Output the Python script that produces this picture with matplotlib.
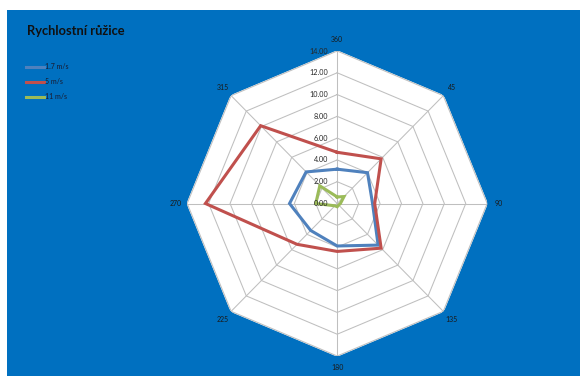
import numpy as np
import matplotlib
matplotlib.use("Agg")
import matplotlib.pyplot as plt
from matplotlib.patches import Rectangle

# ---- data ----
direction_labels = ['360', '45', '90', '135', '180', '225', '270', '315']
direction_deg = [0, 45, 90, 135, 180, 225, 270, 315]
series_names = ['1.7 m/s', '5 m/s', '11 m/s']
speed_1_7 = [3.15, 4.0, 3.3, 5.4, 3.9, 3.5, 4.45, 4.1]
speed_5 = [4.7, 5.8, 3.5, 5.8, 4.4, 5.3, 12.3, 10.1]
speed_11 = [0.6, 0.9, 0.3, 0.2, 0.3, 0.3, 2.0, 2.3]
radial_ticks = [0, 2, 4, 6, 8, 10, 12, 14]
title = 'Rychlostní růžice'

colors = ['#4F81BD', '#C0504D', '#9BBB59']
plt.rcParams['font.family'] = ['Lato', 'DejaVu Sans']

W, H = 585, 385
fig = plt.figure(figsize=(W / 100, H / 100), dpi=100, facecolor='white')
fig.patches.append(Rectangle((7 / W, 9 / H), 573 / W, 366 / H, transform=fig.transFigure,
                             facecolor='#0070C0', edgecolor='none', zorder=-5))

cx, cy, RX, RY = 337.2, 203.5, 150.0, 152.5
ax = fig.add_axes([(cx - RX) / W, (H - cy - RY) / H, 2 * RX / W, 2 * RY / H], projection='polar')
ax.set_aspect('auto')
ax.set_zorder(1)
ax.set_theta_zero_location('N')
ax.set_theta_direction(-1)
ax.set_ylim(0, radial_ticks[-1])
ax.patch.set_alpha(0)
ax.spines['polar'].set_visible(False)
ax.grid(False)
ax.set_yticks([])

theta = np.deg2rad(direction_deg)
closed = np.append(theta, theta[0])
rmax = radial_ticks[-1]
ax.fill(closed, [rmax] * len(closed), color='white', zorder=0)
for r in radial_ticks[1:]:
    ax.plot(closed, [r] * len(closed), color='#BFBFBF', lw=0.75, zorder=1)
for t in theta:
    ax.plot([t, t], [0, rmax], color='#BFBFBF', lw=0.75, zorder=1)

handles = []
for vals, name, c in zip([speed_1_7, speed_5, speed_11], series_names, colors):
    v = np.append(vals, vals[0])
    h, = ax.plot(closed, v, color=c, lw=2.2, label=name, zorder=3, solid_joinstyle='miter')
    handles.append(h)

ax.set_xticks(theta)
ax.set_xticklabels(direction_labels, fontsize=5, color='#1a1a1a')
ax.tick_params(axis='x', pad=1.5, length=0)

for r in radial_ticks:
    ax.annotate(f'{r:.2f}', xy=(0, r), xytext=(-6.5, 0), textcoords='offset points',
                ha='right', va='center', fontsize=5.2, color='#262626', zorder=4)

fig.text(27 / W, 1 - 31 / H, title, fontweight='bold', fontsize=9.3, va='center',
         ha='left', color='#111111')

leg = fig.legend(handles=handles, loc='upper left', bbox_to_anchor=(26 / W, 1 - 63 / H),
                 frameon=False, fontsize=5, handlelength=2.6, handletextpad=0.2,
                 labelspacing=1.15, borderaxespad=0, borderpad=0)
for t in leg.get_texts():
    t.set_color('#1a1a2e')

fig.savefig('out.png', dpi=100, facecolor='white')
